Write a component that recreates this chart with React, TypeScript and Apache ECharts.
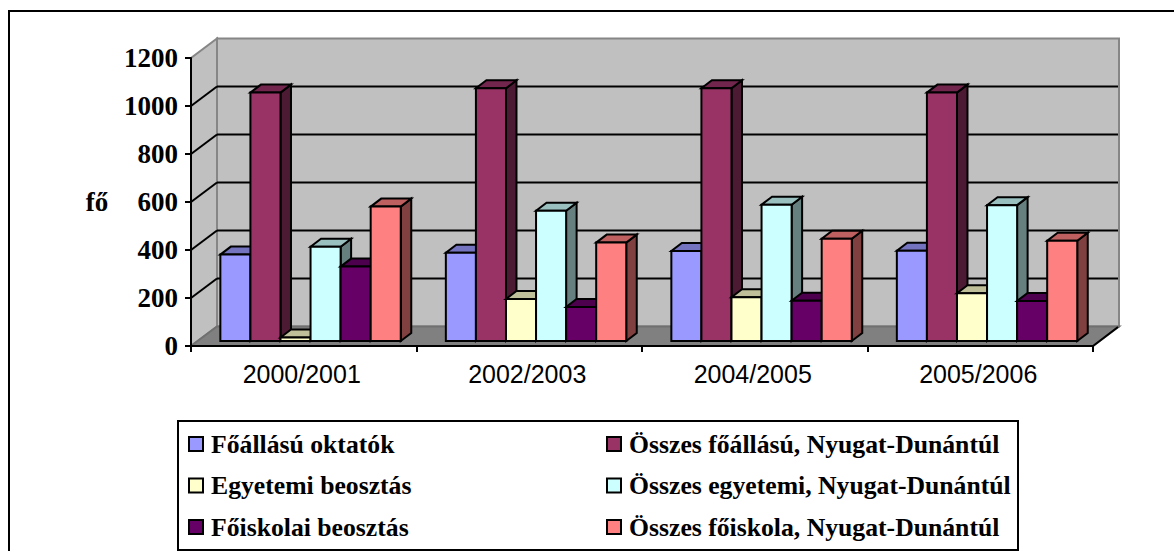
import React, { useEffect, useRef } from "react";
import * as echarts from "echarts";

const categories = ["2000/2001", "2002/2003", "2004/2005", "2005/2006"];
const yTicks = [0, 200, 400, 600, 800, 1000, 1200];
const inner = yTicks.slice(1, -1);

const foallasu = [360, 368, 375, 376];
const osszesFoallasu = [1035, 1053, 1053, 1035];
const egyetemi = [15, 175, 182, 199];
const osszesEgyetemi = [393, 543, 568, 566];
const foiskolai = [310, 142, 168, 167];
const osszesFoiskola = [560, 410, 426, 418];

const seriesDefs = [
  { name: "Főállású oktatók", values: foallasu, rgb: [0x99, 0x99, 0xff] },
  { name: "Összes főállású, Nyugat-Dunántúl", values: osszesFoallasu, rgb: [0x99, 0x33, 0x66] },
  { name: "Egyetemi beosztás", values: egyetemi, rgb: [0xff, 0xff, 0xcc] },
  { name: "Összes egyetemi, Nyugat-Dunántúl", values: osszesEgyetemi, rgb: [0xcc, 0xff, 0xff] },
  { name: "Főiskolai beosztás", values: foiskolai, rgb: [0x66, 0x00, 0x66] },
  { name: "Összes főiskola, Nyugat-Dunántúl", values: osszesFoiskola, rgb: [0xff, 0x80, 0x80] },
];

const DEPTH_X = 26;
const DEPTH_Y = 19.5;
const BAR_OFF_X = 6.8;
const BAR_OFF_Y = 5;
const BAR_DX = 10.5;
const BAR_DY = 8;
const SERIF = '"Liberation Serif", "Times New Roman", serif';
const SANS = '"Liberation Sans", Arial, sans-serif';

const shade = (rgb: number[], k: number) =>
  `rgb(${rgb.map((c) => Math.round(c * k)).join(",")})`;

const plotBox = (api: any) => {
  const band = api.size([1, 0])[0];
  const left = api.coord([0, 0])[0] - band / 2;
  const right = api.coord([categories.length - 1, 0])[0] + band / 2;
  const bottom = api.coord([0, 0])[1];
  const top = api.coord([0, yTicks[yTicks.length - 1]])[1];
  return { left, right, bottom, top };
};

const renderWalls = (_: any, api: any) => {
  const { left, right, bottom, top } = plotBox(api);
  const wall = { fill: "#c0c0c0", stroke: "#868686", lineWidth: 2 };
  return {
    type: "group",
    silent: true,
    children: [
      {
        type: "polygon",
        shape: {
          points: [
            [left, bottom],
            [left + DEPTH_X, bottom - DEPTH_Y],
            [left + DEPTH_X, top - DEPTH_Y],
            [left, top],
          ],
        },
        style: wall,
      },
      {
        type: "polygon",
        shape: {
          points: [
            [left + DEPTH_X, bottom - DEPTH_Y],
            [right + DEPTH_X, bottom - DEPTH_Y],
            [right + DEPTH_X, top - DEPTH_Y],
            [left + DEPTH_X, top - DEPTH_Y],
          ],
        },
        style: wall,
      },
      {
        type: "polygon",
        shape: {
          points: [
            [left, bottom],
            [right, bottom],
            [right + DEPTH_X, bottom - DEPTH_Y],
            [left + DEPTH_X, bottom - DEPTH_Y],
          ],
        },
        style: { fill: "#808080", stroke: "#707070", lineWidth: 2 },
      },
      {
        type: "line",
        shape: { x1: right, y1: bottom, x2: right + DEPTH_X - 1, y2: bottom - DEPTH_Y + 0.5 },
        style: { stroke: "#000", lineWidth: 2 },
      },
    ],
  };
};

const renderGrid = (_: any, api: any) => {
  const { left, right } = plotBox(api);
  const y = api.coord([0, api.value(0)])[1];
  const line = { stroke: "#000", lineWidth: 2 };
  return {
    type: "group",
    silent: true,
    children: [
      { type: "line", shape: { x1: left, y1: y, x2: left + DEPTH_X, y2: y - DEPTH_Y }, style: line },
      {
        type: "line",
        shape: { x1: left + DEPTH_X, y1: y - DEPTH_Y, x2: right + DEPTH_X - 1, y2: y - DEPTH_Y },
        style: line,
      },
    ],
  };
};

const renderBar = (slot: number, rgb: number[]) => (_: any, api: any) => {
  const center = api.coord([api.value(0), 0]);
  const topPt = api.coord([api.value(0), api.value(1)]);
  const band = api.size([1, 0])[0];
  const w = band / 7.5;
  const x0 = center[0] - 3 * w + slot * w + BAR_OFF_X;
  const x1 = x0 + w;
  const yb = center[1] - BAR_OFF_Y;
  const yt = topPt[1] - BAR_OFF_Y;
  const edge = { stroke: "#000", lineWidth: 2, lineJoin: "miter" };
  return {
    type: "group",
    silent: true,
    children: [
      {
        type: "polygon",
        shape: { points: [[x1, yb], [x1 + BAR_DX, yb - BAR_DY], [x1 + BAR_DX, yt - BAR_DY], [x1, yt]] },
        style: { ...edge, fill: shade(rgb, 0.5) },
      },
      {
        type: "polygon",
        shape: { points: [[x0, yt], [x1, yt], [x1 + BAR_DX, yt - BAR_DY], [x0 + BAR_DX, yt - BAR_DY]] },
        style: { ...edge, fill: shade(rgb, 0.75) },
      },
      {
        type: "polygon",
        shape: { points: [[x0, yb], [x1, yb], [x1, yt], [x0, yt]] },
        style: { ...edge, fill: shade(rgb, 1) },
      },
    ],
  };
};

const legendBase = {
  orient: "vertical" as const,
  selectedMode: false,
  itemWidth: 14,
  itemHeight: 14,
  itemGap: 15.5,
  icon: "rect",
  padding: 0,
  itemStyle: { borderColor: "#000", borderWidth: 2 },
  textStyle: { fontFamily: SERIF, fontWeight: "bold" as const, fontSize: 25.7, color: "#000", padding: [0, 0, 0, 3] },
};

export default function App() {
  const ref = useRef<HTMLDivElement>(null);
  useEffect(() => {
    const chart = echarts.init(ref.current!, null, { renderer: "svg" });
    chart.setOption({
      animation: false,
      backgroundColor: "#fff",
      grid: { left: 191, top: 58, width: 902, height: 288, containLabel: false },
      xAxis: {
        type: "category",
        data: categories,
        z: 10,
        boundaryGap: true,
        axisLine: { lineStyle: { color: "#000", width: 2 } },
        axisTick: { show: true, length: 6, alignWithLabel: false, lineStyle: { color: "#000", width: 2 } },
        axisLabel: { fontFamily: SANS, fontSize: 25, color: "#000", margin: 15, padding: [0, 4, 0, 0] },
      },
      yAxis: {
        type: "value",
        min: 0,
        max: 1200,
        interval: 200,
        z: 10,
        name: "fő",
        nameLocation: "middle",
        nameRotate: 0,
        nameGap: 94,
        nameTextStyle: { fontFamily: SERIF, fontWeight: "bold", fontSize: 27, color: "#000", align: "center", verticalAlign: "middle" },
        axisLine: { show: true, lineStyle: { color: "#000", width: 2 } },
        axisTick: { show: true, length: 6, lineStyle: { color: "#000", width: 2 } },
        axisLabel: { fontFamily: SERIF, fontWeight: "bold", fontSize: 27, color: "#000", margin: 13, formatter: (v: number) => String(v) },
        splitLine: { show: false },
      },
      legend: [
        {
          ...legendBase,
          left: 188,
          top: 431,
          data: [seriesDefs[0].name, seriesDefs[2].name, seriesDefs[4].name],
        },
        {
          ...legendBase,
          left: 606,
          top: 431,
          data: [seriesDefs[1].name, seriesDefs[3].name, seriesDefs[5].name],
        },
      ],
      graphic: [
        {
          type: "rect",
          silent: true,
          z: -1,
          shape: { x: 9, y: 11, width: 1300, height: 700 },
          style: { fill: "none", stroke: "#000", lineWidth: 2 },
        },
        {
          type: "rect",
          silent: true,
          z: -1,
          shape: { x: 178, y: 421, width: 840, height: 129 },
          style: { fill: "#fff", stroke: "#000", lineWidth: 2 },
        },
      ],
      series: [
        { type: "custom", name: "walls", z: 1, renderItem: renderWalls, data: [[0]], encode: { x: [], y: [] }, tooltip: { show: false } },
        { type: "custom", name: "grid", z: 1, renderItem: renderGrid, data: inner.map((v) => [v]), encode: { x: [], y: [] } },
        ...seriesDefs.map((s, i) => ({
          type: "custom",
          name: s.name,
          z: 2,
          itemStyle: { color: shade(s.rgb, 1) },
          renderItem: renderBar(i, s.rgb),
          encode: { x: 0, y: 1 },
          data: s.values.map((v, c) => [c, v]),
        })),
      ],
    });
    return () => chart.dispose();
  }, []);
  return <div ref={ref} style={{ position: "fixed", left: 0, top: 0, width: 1174, height: 551 }} />;
}
